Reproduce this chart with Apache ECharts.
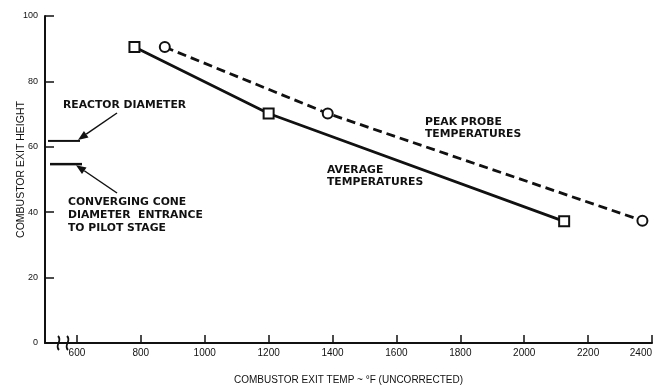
<!DOCTYPE html>
<html>
<head>
<meta charset="utf-8">
<script src="https://cdn.jsdelivr.net/npm/echarts@6/dist/echarts.min.js"></script>
<style>html,body{margin:0;padding:0;background:#fff}#c{width:656px;height:390px}</style>
</head>
<body>
<div id="c"></div>
<script>
// ---- data ----
var xTicks = [600, 800, 1000, 1200, 1400, 1600, 1800, 2000, 2200, 2400];
var yTicks = [0, 20, 40, 60, 80, 100];
var avgTemp = [780, 1200, 2125];
var avgHeight = [90.5, 70.2, 37.2];
var peakTemp = [875, 1385, 2370];
var peakHeight = [90.5, 70.2, 37.4];
var reactorDiameter = 61.8;
var coneDiameter = 54.7;

var chart = echarts.init(document.getElementById('c'), null, {renderer: 'canvas'});
var FONT = 'Liberation Sans';
var AFONT = 'DejaVu Sans';
var INK = '#111';

function pairs(xs, ys) { return xs.map(function (x, i) { return [x, ys[i]]; }); }

chart.setOption({
  animation: false,
  backgroundColor: '#fff',
  grid: {left: 45, right: 4, top: 16, bottom: 47, outerBoundsMode: 'none', containLabel: false},
  xAxis: {
    type: 'value', min: 500, max: 2400,
    name: 'COMBUSTOR EXIT TEMP ~ °F (UNCORRECTED)',
    nameLocation: 'middle', nameGap: 32,
    nameTextStyle: {fontFamily: FONT, fontSize: 10, color: INK},
    axisLine: {lineStyle: {color: INK, width: 2}},
    axisTick: {show: true, inside: true, length: 8, customValues: xTicks, lineStyle: {color: INK, width: 1.5}},
    axisLabel: {customValues: xTicks, formatter: function (v) { return String(v); }, alignMaxLabel: 'right', fontFamily: FONT, fontSize: 10, color: INK, margin: 5},
    splitLine: {show: false}
  },
  yAxis: {
    type: 'value', min: 0, max: 100, interval: 20,
    name: 'COMBUSTOR EXIT HEIGHT',
    nameLocation: 'middle', nameGap: 18, nameRotate: 90, nameMoveOverlap: false,
    nameTextStyle: {fontFamily: FONT, fontSize: 10.5, color: INK, padding: [0, 0, 0, 20]},
    axisLine: {show: true, lineStyle: {color: INK, width: 2}},
    axisTick: {show: true, inside: true, length: 9, lineStyle: {color: INK, width: 1.5}},
    axisLabel: {fontFamily: FONT, fontSize: 9, color: INK, margin: 7},
    splitLine: {show: false}
  },
  series: [
    {
      name: 'AVERAGE TEMPERATURES', type: 'line',
      data: pairs(avgTemp, avgHeight),
      symbol: 'rect', symbolSize: 10,
      lineStyle: {color: INK, width: 2.8},
      itemStyle: {color: '#fff', borderColor: INK, borderWidth: 2},
      z: 3
    },
    {
      name: 'PEAK PROBE TEMPERATURES', type: 'line',
      data: pairs(peakTemp, peakHeight),
      symbol: 'circle', symbolSize: 10,
      lineStyle: {color: INK, width: 2.8, type: [9, 5]},
      itemStyle: {color: '#fff', borderColor: INK, borderWidth: 2},
      z: 3
    }
  ]
});

// ---- annotations ----
function px(x, y) { return chart.convertToPixel({gridIndex: 0}, [x, y]); }
function arrow(x1, y1, x2, y2) {
  var a = Math.atan2(y2 - y1, x2 - x1), L = 10, W = 4;
  var bx = x2 - L * Math.cos(a), by = y2 - L * Math.sin(a);
  return [
    {type: 'line', shape: {x1: x1, y1: y1, x2: bx, y2: by}, style: {stroke: INK, lineWidth: 1.5}},
    {type: 'polygon', shape: {points: [[x2, y2], [bx - W * Math.sin(a), by + W * Math.cos(a)], [bx + W * Math.sin(a), by - W * Math.cos(a)]]}, style: {fill: INK}}
  ];
}
function txt(x, y, s) {
  return {type: 'text', x: x, y: y, style: {text: s, fontFamily: AFONT, fontSize: 10.8, fontWeight: 'bold', fill: INK, textVerticalAlign: 'middle'}};
}
var r = px(500, reactorDiameter), c = px(500, coneDiameter);
var g = [];
g.push({type: 'line', shape: {x1: 48, y1: r[1], x2: 80, y2: r[1]}, style: {stroke: INK, lineWidth: 2}});
g.push({type: 'line', shape: {x1: 50, y1: c[1], x2: 82, y2: c[1]}, style: {stroke: INK, lineWidth: 2.5}});
g = g.concat(arrow(117, 113, 78, r[1] - 1));
g = g.concat(arrow(117, 193, 76, c[1] + 1));
g.push(txt(63, 105, 'REACTOR DIAMETER'));
g.push(txt(68, 202, 'CONVERGING CONE'));
g.push(txt(68, 215, 'DIAMETER  ENTRANCE'));
g.push(txt(68, 228, 'TO PILOT STAGE'));
g.push(txt(425, 122, 'PEAK PROBE'));
g.push(txt(425, 134, 'TEMPERATURES'));
g.push(txt(327, 170, 'AVERAGE'));
g.push(txt(327, 182, 'TEMPERATURES'));
// axis break
var b = px(500, 0);
g.push({type: 'rect', shape: {x: 57, y: b[1] - 3, width: 13, height: 6}, style: {fill: '#fff'}});
g.push({type: 'bezierCurve', shape: {x1: 58, y1: b[1] - 7, x2: 59, y2: b[1] + 7, cpx1: 63, cpy1: b[1] - 2, cpx2: 54, cpy2: b[1] + 2}, style: {stroke: INK, lineWidth: 1.8, fill: null}});
g.push({type: 'bezierCurve', shape: {x1: 67, y1: b[1] - 7, x2: 68, y2: b[1] + 7, cpx1: 72, cpy1: b[1] - 2, cpx2: 63, cpy2: b[1] + 2}, style: {stroke: INK, lineWidth: 1.8, fill: null}});
chart.setOption({graphic: g});
</script>
</body>
</html>
